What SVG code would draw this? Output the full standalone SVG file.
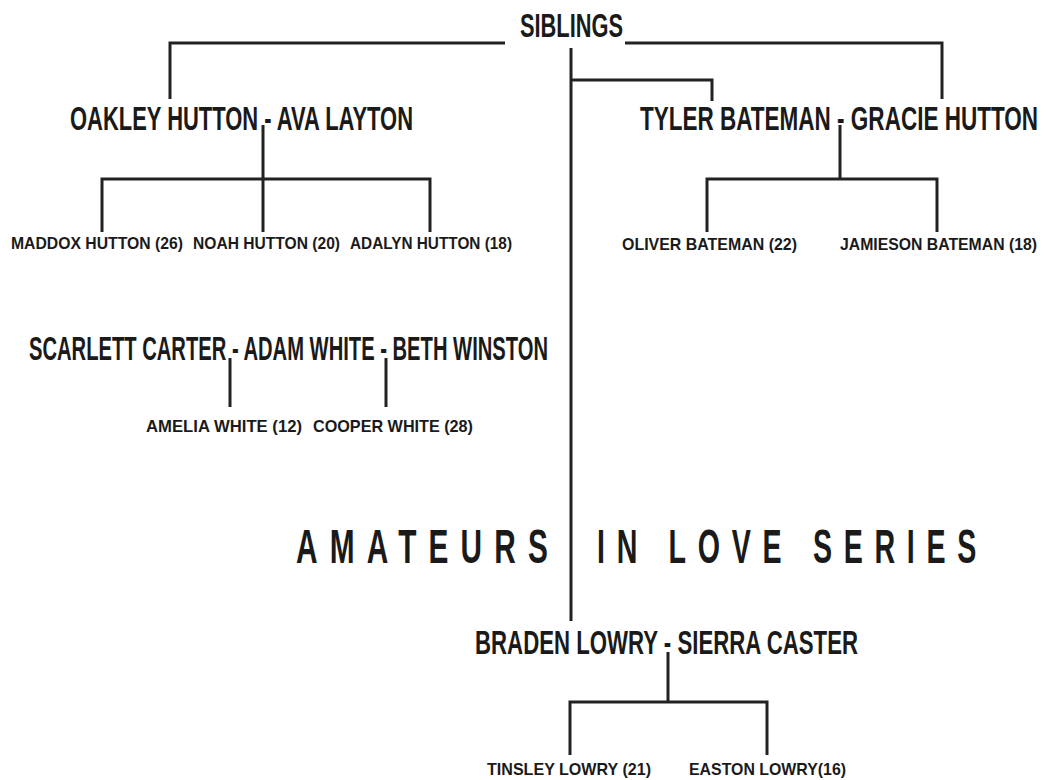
<svg xmlns="http://www.w3.org/2000/svg" width="1054" height="780" viewBox="0 0 1054 780">
<style>
.n{font-family:"Liberation Sans",Arial,sans-serif;font-weight:bold;fill:#1a1a1a}
.b{font-size:33px}
.s{font-size:17px}
.t{font-family:"Liberation Sans",Arial,sans-serif;font-weight:bold;font-size:49px;fill:#1a1a1a;letter-spacing:20px;white-space:pre}
.c{stroke:#222;stroke-width:3;fill:none}
</style>
<rect width="1054" height="780" fill="#fff"/>
<g id="connectors">
<path class="c" d="M505 43H170V99M625 43H942V99"/>
<path class="c" d="M571 48V621M571 80H712V101"/>
<path class="c" d="M263 125V232M102 232V179H430V232"/>
<path class="c" d="M840 125V179M707 232V179H937V232"/>
<path class="c" d="M230 358V407M386 358V407"/>
<path class="c" d="M668 652V702M570 755V702H767V755"/>
</g>
<g id="siblings"><text class="n b" x="520" y="37" textLength="103" lengthAdjust="spacingAndGlyphs">SIBLINGS</text></g>
<g id="oakley-ava"><text class="n b" x="70" y="130" textLength="343" lengthAdjust="spacingAndGlyphs">OAKLEY HUTTON - AVA LAYTON</text></g>
<g id="maddox"><text class="n s" x="11" y="249" textLength="172" lengthAdjust="spacingAndGlyphs">MADDOX HUTTON (26)</text></g>
<g id="noah"><text class="n s" x="193" y="249" textLength="147" lengthAdjust="spacingAndGlyphs">NOAH HUTTON (20)</text></g>
<g id="adalyn"><text class="n s" x="350" y="249" textLength="162" lengthAdjust="spacingAndGlyphs">ADALYN HUTTON (18)</text></g>
<g id="tyler-gracie"><text class="n b" x="640" y="130" textLength="398" lengthAdjust="spacingAndGlyphs">TYLER BATEMAN - GRACIE HUTTON</text></g>
<g id="oliver"><text class="n s" x="622" y="250" textLength="175" lengthAdjust="spacingAndGlyphs">OLIVER BATEMAN (22)</text></g>
<g id="jamieson"><text class="n s" x="840" y="250" textLength="197" lengthAdjust="spacingAndGlyphs">JAMIESON BATEMAN (18)</text></g>
<g id="scarlett-adam-beth"><text class="n b" x="29" y="360" textLength="519" lengthAdjust="spacingAndGlyphs">SCARLETT CARTER - ADAM WHITE - BETH WINSTON</text></g>
<g id="amelia"><text class="n s" x="146" y="432" textLength="156" lengthAdjust="spacingAndGlyphs">AMELIA WHITE (12)</text></g>
<g id="cooper"><text class="n s" x="313" y="432" textLength="160" lengthAdjust="spacingAndGlyphs">COOPER WHITE (28)</text></g>
<g id="title">
<text class="t" x="296" y="563" textLength="264" lengthAdjust="spacingAndGlyphs">AMATEURS</text>
<text class="t" x="597" y="563" textLength="391" lengthAdjust="spacingAndGlyphs">IN LOVE SERIES</text>
</g>
<g id="braden-sierra"><text class="n b" x="475" y="654" textLength="383" lengthAdjust="spacingAndGlyphs">BRADEN LOWRY - SIERRA CASTER</text></g>
<g id="tinsley"><text class="n s" x="487" y="775" textLength="164" lengthAdjust="spacingAndGlyphs">TINSLEY LOWRY (21)</text></g>
<g id="easton"><text class="n s" x="689" y="775" textLength="157" lengthAdjust="spacingAndGlyphs">EASTON LOWRY(16)</text></g>
</svg>
